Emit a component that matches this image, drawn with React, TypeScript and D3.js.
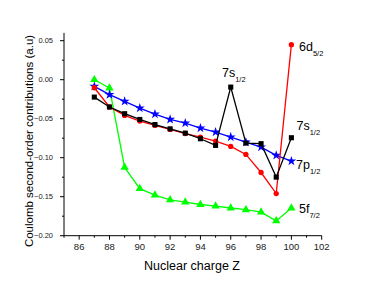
import React from "react";
import * as d3 from "d3";

const Z = [87, 88, 89, 90, 91, 92, 93, 94, 95, 96, 97, 98, 99, 100];
const s7 = [-0.0223, -0.035, -0.0436, -0.051, -0.0575, -0.063, -0.0685, -0.0757, -0.0842, -0.0095, -0.0813, -0.082, -0.1249, -0.0744];
const d6 = [-0.0103, -0.035, -0.0458, -0.053, -0.0586, -0.0637, -0.069, -0.0735, -0.0787, -0.0855, -0.0958, -0.119, -0.146, 0.0449];
const p7 = [-0.0086, -0.0192, -0.0278, -0.0364, -0.0441, -0.0509, -0.0556, -0.062, -0.0672, -0.0735, -0.080, -0.0864, -0.097, -0.1043];
const f5 = [0.0, -0.0107, -0.1124, -0.1397, -0.148, -0.154, -0.157, -0.160, -0.162, -0.1645, -0.1667, -0.1697, -0.181, -0.1645];

const xTicks = [86, 88, 90, 92, 94, 96, 98, 100, 102];
const yTicks = [-0.2, -0.15, -0.1, -0.05, 0, 0.05];

const W = 374, H = 286;
const x = d3.scaleLinear().domain([85, 102]).range([64, 321.7]);
const y = d3.scaleLinear().domain([-0.2, 0.06]).range([235.7, 32.9]);

const FONT = "Liberation Sans, Arial, sans-serif";

function Series({ vals, color, marker }: { vals: number[]; color: string; marker: string }) {
  const line = d3.line<number>().x((_, i) => x(Z[i])).y((v) => y(v));
  const sym =
    marker === "square" ? d3.symbol(d3.symbolSquare, 26) :
    marker === "circle" ? d3.symbol(d3.symbolCircle, 22) :
    marker === "star" ? d3.symbol(d3.symbolStar, 30) :
    d3.symbol(d3.symbolTriangle, 30);
  return (
    <g>
      <path d={line(vals) || ""} fill="none" stroke={color} strokeWidth={1.3} />
      {vals.map((v, i) => (
        <path key={i} d={sym() || ""} transform={`translate(${x(Z[i])},${y(v)})`} fill={color} />
      ))}
    </g>
  );
}

function Label({ px, py, main, sub }: { px: number; py: number; main: string; sub: string }) {
  return (
    <text x={px} y={py} fontFamily={FONT} fontSize={12.5} fill="#000">
      {main}
      <tspan fontSize={7.5} dy={5}>{sub}</tspan>
    </text>
  );
}

export default function App() {
  const minorX = d3.range(85, 103, 1);
  const minorY = d3.range(-0.2, 0.0601, 0.025);
  return (
    <svg width={W} height={H} style={{ position: "absolute", left: 0, top: 0 }}>
      <rect width={W} height={H} fill="#fff" />
      {/* axes */}
      <line x1={x(85)} x2={x(102)} y1={y(-0.2)} y2={y(-0.2)} stroke="#000" strokeWidth={1} />
      <line x1={x(85)} x2={x(85)} y1={y(-0.2)} y2={y(0.06)} stroke="#000" strokeWidth={1} />
      {minorX.map((t) => (
        <line key={"mx" + t} x1={x(t)} x2={x(t)} y1={y(-0.2)} y2={y(-0.2) + (t % 2 === 0 ? 4 : 2)} stroke="#000" strokeWidth={1} />
      ))}
      {minorY.map((t, i) => (
        <line key={"my" + i} x1={x(85)} x2={x(85) - (i % 2 === 0 ? 4 : 2)} y1={y(t)} y2={y(t)} stroke="#000" strokeWidth={1} />
      ))}
      {xTicks.map((t) => (
        <text key={"xt" + t} x={x(t)} y={250} textAnchor="middle" fontFamily={FONT} fontSize={9.5} fill="#222">{t}</text>
      ))}
      {yTicks.map((t) => (
        <text key={"yt" + t} x={53} y={y(t) + 2.6} textAnchor="end" fontFamily={FONT} fontSize={7.5} fill="#222">{d3.format(".2f")(t)}</text>
      ))}
      <text x={192} y={270} textAnchor="middle" fontFamily={FONT} fontSize={12.5} fill="#000">Nuclear charge Z</text>
      <text transform={`translate(33,141) rotate(-90)`} textAnchor="middle" fontFamily={FONT} fontSize={11.5} fill="#000">Coulomb second-order contributions (a.u)</text>

      <Series vals={f5} color="#00ff00" marker="triangle" />
      <Series vals={p7} color="#0000ff" marker="star" />
      <Series vals={d6} color="#ff0000" marker="circle" />
      <Series vals={s7} color="#000000" marker="square" />

      <Label px={299} py={51} main="6d" sub="5/2" />
      <Label px={222} py={77} main="7s" sub="1/2" />
      <Label px={296.5} py={130} main="7s" sub="1/2" />
      <Label px={296} py={169} main="7p" sub="1/2" />
      <Label px={299} py={213} main="5f" sub="7/2" />
    </svg>
  );
}
